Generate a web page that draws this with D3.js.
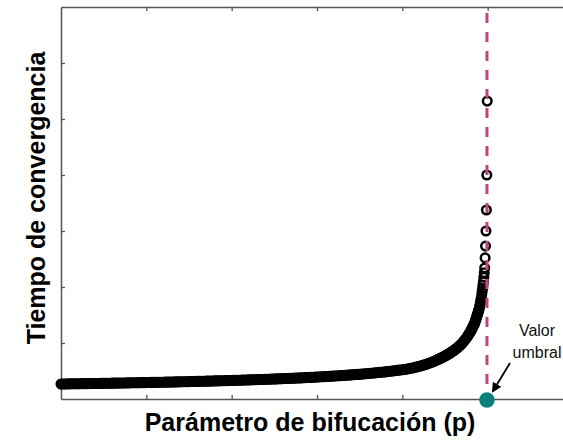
<!DOCTYPE html>
<html>
<head>
<meta charset="utf-8">
<script src="https://cdn.jsdelivr.net/npm/d3@7"></script>
<style>
  html, body { margin: 0; padding: 0; background: #fff; }
  svg { display: block; }
</style>
</head>
<body>
<svg id="chart" width="563" height="441"></svg>
<script>
// Convergence time measured while sweeping the bifurcation parameter p.
// The sweep is split in three runs, each with its own start and step in p.
const pStart = [0, 0.44, 0.48];
const pStep = [0.002, 0.001, 0.0005];

const timeA = [
  26.8, 26.8, 26.9, 26.9, 27.0, 27.0, 27.1, 27.1, 27.2, 27.2,
  27.3, 27.3, 27.4, 27.4, 27.5, 27.5, 27.5, 27.6, 27.6, 27.7,
  27.7, 27.8, 27.8, 27.9, 27.9, 28.0, 28.1, 28.1, 28.2, 28.2,
  28.3, 28.3, 28.4, 28.4, 28.5, 28.5, 28.6, 28.6, 28.7, 28.8,
  28.8, 28.9, 28.9, 29.0, 29.0, 29.1, 29.2, 29.2, 29.3, 29.3,
  29.4, 29.5, 29.5, 29.6, 29.7, 29.7, 29.8, 29.8, 29.9, 30.0,
  30.0, 30.1, 30.2, 30.2, 30.3, 30.4, 30.4, 30.5, 30.6, 30.6,
  30.7, 30.8, 30.9, 30.9, 31.0, 31.1, 31.2, 31.2, 31.3, 31.4,
  31.5, 31.5, 31.6, 31.7, 31.8, 31.9, 31.9, 32.0, 32.1, 32.2,
  32.3, 32.3, 32.4, 32.5, 32.6, 32.7, 32.8, 32.9, 33.0, 33.0,
  33.1, 33.2, 33.3, 33.4, 33.5, 33.6, 33.7, 33.8, 33.9, 34.0,
  34.1, 34.2, 34.3, 34.4, 34.5, 34.6, 34.7, 34.8, 34.9, 35.0,
  35.2, 35.3, 35.4, 35.5, 35.6, 35.7, 35.9, 36.0, 36.1, 36.2,
  36.3, 36.5, 36.6, 36.7, 36.9, 37.0, 37.1, 37.3, 37.4, 37.5,
  37.7, 37.8, 38.0, 38.1, 38.3, 38.4, 38.6, 38.7, 38.9, 39.0,
  39.2, 39.4, 39.6, 39.7, 39.9, 40.1, 40.3, 40.4, 40.6, 40.8,
  41.0, 41.2, 41.4, 41.6, 41.8, 42.0, 42.2, 42.4, 42.6, 42.8,
  43.0, 43.2, 43.5, 43.7, 44.0, 44.2, 44.5, 44.7, 45.0, 45.2,
  45.5, 45.8, 46.1, 46.4, 46.7, 47.0, 47.3, 47.6, 47.9, 48.2,
  48.5, 48.8, 49.2, 49.6, 50.0, 50.4, 50.7, 51.1, 51.5, 51.9,
  52.3, 52.7, 53.2, 53.7, 54.2, 54.8, 55.4, 56.1, 56.9, 57.7,
  58.5, 59.3, 60.2, 61.1, 62.1, 63.2, 64.3, 65.4, 66.6, 67.8
];
const timeB = [
  69.5, 70.2, 70.8, 71.5, 72.1, 72.8, 73.6, 74.4, 75.1, 75.9,
  76.7, 77.6, 78.5, 79.4, 80.3, 81.2, 82.2, 83.2, 84.2, 85.2,
  86.2, 87.4, 88.6, 89.8, 91.0, 92.2, 93.6, 95.1, 96.5, 98.0,
  99.4, 101.2, 103.1, 104.9, 106.8, 108.6, 111.0, 113.4, 115.7, 118.1
];
const timeC = [
  120.5, 122.1, 123.7, 125.2, 126.8, 128.4, 130.0, 131.6, 133.1, 134.7,
  136.3, 138.7, 141.2, 143.6, 146.0, 148.5, 150.9, 153.3, 155.7, 158.2,
  160.6, 164.4, 168.2, 172.1, 175.9, 179.7, 185.6, 191.6, 197.5, 203.5,
  209.4, 217.5, 225.5, 234, 252, 273, 300, 337.5, 400, 532
];
const runs = [timeA, timeB, timeC];

// Critical value of p (threshold)
const pThreshold = 0.4992;

const xDomain = [0, 0.6];
const yDomain = [0, 700];
const xTickValues = [0.1, 0.2, 0.3, 0.4, 0.5];
const yTickValues = [100, 200, 300, 400, 500, 600];

const xLabel = "Parámetro de bifucación (p)";
const yLabel = "Tiempo de convergencia";
const noteLines = ["Valor", "umbral"];

const svg = d3.select("#chart");
const W = 563, H = 441;
const plot = { left: 61, right: 573, top: 7, bottom: 399 };
const font = "Liberation Sans, Arial, sans-serif";

svg.append("rect").attr("width", W).attr("height", H).attr("fill", "#fff");

const x = d3.scaleLinear().domain(xDomain).range([plot.left, plot.right]);
const y = d3.scaleLinear().domain(yDomain).range([plot.bottom, plot.top]);

const points = [];
runs.forEach((run, i) => {
  run.forEach((t, j) => {
    points.push({ p: +(pStart[i] + j * pStep[i]).toFixed(5), t });
  });
});

const axisColor = "#555";

// Frame with inward ticks, no tick labels
const gBottom = svg.append("g")
  .attr("transform", `translate(0,${plot.bottom})`)
  .call(d3.axisBottom(x).tickValues(xTickValues).tickSize(-4).tickSizeOuter(0).tickFormat(""));
const gTop = svg.append("g")
  .attr("transform", `translate(0,${plot.top})`)
  .call(d3.axisTop(x).tickValues(xTickValues).tickSize(-4).tickSizeOuter(0).tickFormat(""));
const gLeft = svg.append("g")
  .attr("transform", `translate(${plot.left},0)`)
  .call(d3.axisLeft(y).tickValues(yTickValues).tickSize(-4).tickSizeOuter(0).tickFormat(""));

[gBottom, gTop, gLeft].forEach(g => {
  g.selectAll("path.domain").attr("stroke", axisColor).attr("stroke-width", 1.5);
  g.selectAll(".tick line").attr("stroke", axisColor).attr("stroke-width", 1.3);
});

// Measured points: open circles
svg.append("g")
  .selectAll("circle")
  .data(points)
  .join("circle")
  .attr("cx", d => x(d.p))
  .attr("cy", d => y(d.t))
  .attr("r", 4.3)
  .attr("fill", "none")
  .attr("stroke", "#000")
  .attr("stroke-width", 2.5);

// Threshold line
svg.append("line")
  .attr("x1", x(pThreshold)).attr("x2", x(pThreshold))
  .attr("y1", plot.top).attr("y2", plot.bottom)
  .attr("stroke", "#c2447f")
  .attr("stroke-width", 3)
  .attr("stroke-dasharray", "10 9")
  .attr("stroke-dashoffset", 13);

// Threshold marker on the axis
svg.append("circle")
  .attr("cx", x(pThreshold))
  .attr("cy", plot.bottom + 1)
  .attr("r", 7.8)
  .attr("fill", "#0b7f7c");

// Annotation with arrow
svg.append("defs").append("marker")
  .attr("id", "arrowHead")
  .attr("viewBox", "0 0 10 10")
  .attr("refX", 8).attr("refY", 5)
  .attr("markerWidth", 5.5).attr("markerHeight", 5.5)
  .attr("orient", "auto")
  .append("path")
  .attr("d", "M0,0 L10,5 L0,10 Z")
  .attr("fill", "#000");

svg.append("line")
  .attr("x1", x(pThreshold) + 23).attr("y1", plot.bottom - 36)
  .attr("x2", x(pThreshold) + 6).attr("y2", plot.bottom - 8)
  .attr("stroke", "#000")
  .attr("stroke-width", 1.8)
  .attr("marker-end", "url(#arrowHead)");

const note = svg.append("text")
  .attr("x", 537)
  .attr("y", 336)
  .attr("text-anchor", "middle")
  .attr("font-family", font)
  .attr("font-size", 16)
  .attr("fill", "#111");
noteLines.forEach((s, i) => {
  note.append("tspan").attr("x", 537).attr("dy", i === 0 ? 0 : 22).text(s);
});

// Axis titles
svg.append("text")
  .attr("x", 310)
  .attr("y", 431)
  .attr("text-anchor", "middle")
  .attr("font-family", font)
  .attr("font-weight", "bold")
  .attr("font-size", 25)
  .attr("fill", "#000")
  .text(xLabel);

svg.append("text")
  .attr("transform", "translate(45,198) rotate(-90)")
  .attr("text-anchor", "middle")
  .attr("font-family", font)
  .attr("font-weight", "bold")
  .attr("font-size", 25)
  .attr("fill", "#000")
  .text(yLabel);
</script>
</body>
</html>
